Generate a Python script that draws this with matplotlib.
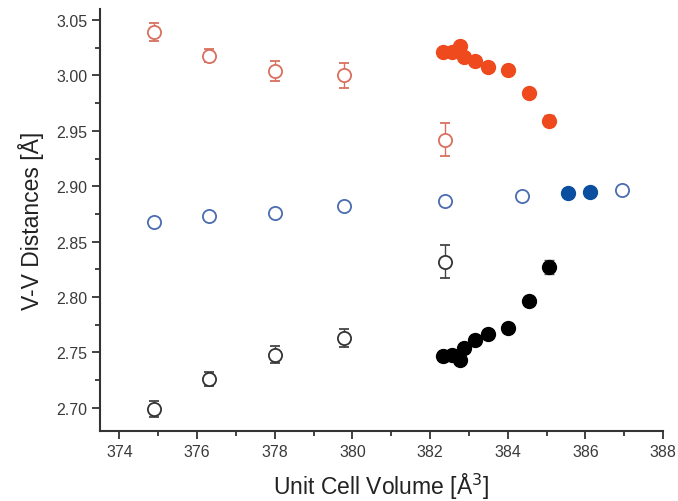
import matplotlib
matplotlib.use("Agg")
import matplotlib.pyplot as plt
from matplotlib.ticker import MultipleLocator, FormatStrFormatter

plt.rcParams['font.family'] = ['Liberation Sans', 'DejaVu Sans']

# Red open (long V-V distance, phase 1)
red_open_x = [374.90, 376.31, 378.00, 379.79, 382.38]
red_open_y = [3.039, 3.018, 3.004, 3.000, 2.942]
red_open_err = [0.008, 0.006, 0.009, 0.011, 0.015]

# Red filled
red_fill_x = [382.33, 382.56, 382.77, 382.87, 383.15, 383.49, 384.00, 384.54, 385.05]
red_fill_y = [3.021, 3.021, 3.027, 3.017, 3.013, 3.008, 3.005, 2.984, 2.959]
red_fill_err = [0, 0, 0, 0, 0, 0, 0, 0, 0.005]

# Blue open
blue_open_x = [374.90, 376.31, 378.00, 379.79, 382.38, 384.36, 386.95]
blue_open_y = [2.868, 2.873, 2.876, 2.882, 2.887, 2.891, 2.897]

# Blue filled
blue_fill_x = [385.56, 386.13]
blue_fill_y = [2.894, 2.895]

# Black open
black_open_x = [374.90, 376.31, 378.00, 379.79, 382.38]
black_open_y = [2.699, 2.726, 2.748, 2.763, 2.832]
black_open_err = [0.007, 0.006, 0.008, 0.008, 0.015]

# Black filled
black_fill_x = [382.33, 382.56, 382.77, 382.87, 383.15, 383.49, 384.00, 384.54, 385.05]
black_fill_y = [2.747, 2.748, 2.743, 2.754, 2.761, 2.767, 2.772, 2.796, 2.827]
black_fill_err = [0, 0, 0, 0, 0, 0, 0, 0, 0.006]

fig = plt.figure(figsize=(6.78, 5.02), dpi=100)
ax = fig.add_axes([0.1475, 0.1394, 0.8305, 0.8406])

ms = 9.5
ms_f = 10.0
red_o = '#d9705f'
red_f = '#ef4a1e'
blue_o = '#4a6cb0'
blue_f = '#0a4ea0'

ax.errorbar(red_open_x, red_open_y, yerr=red_open_err, fmt='o', mfc='white',
            mec=red_o, ecolor=red_o, mew=1.3, ms=ms, capsize=3.5, elinewidth=1.0, capthick=1.0, zorder=3)
ax.errorbar(red_fill_x, red_fill_y, yerr=red_fill_err, fmt='o', mfc=red_f,
            mec=red_f, ecolor='#b04030', ms=ms_f, capsize=3.5, elinewidth=1.0, capthick=1.0, zorder=3)
ax.plot(blue_open_x, blue_open_y, 'o', mfc='white', mec=blue_o, mew=1.3, ms=ms, zorder=3)
ax.plot(blue_fill_x, blue_fill_y, 'o', mfc=blue_f, mec=blue_f, ms=ms_f, zorder=3)
ax.errorbar(black_open_x, black_open_y, yerr=black_open_err, fmt='o', mfc='white',
            mec='#333333', ecolor='#444444', mew=1.3, ms=ms, capsize=3.5, elinewidth=1.0, capthick=1.0, zorder=3)
ax.errorbar(black_fill_x, black_fill_y, yerr=black_fill_err, fmt='o', mfc='black',
            mec='black', ecolor='#555555', ms=ms_f, capsize=3.5, elinewidth=1.0, capthick=1.0, zorder=3)

ax.set_xlim(373.5, 388)
ax.set_ylim(2.679, 3.060)
ax.xaxis.set_major_locator(MultipleLocator(2))
ax.xaxis.set_minor_locator(MultipleLocator(1))
ax.yaxis.set_major_locator(MultipleLocator(0.05))
ax.yaxis.set_minor_locator(MultipleLocator(0.025))
ax.yaxis.set_major_formatter(FormatStrFormatter('%.2f'))

for s in ['top', 'right']:
    ax.spines[s].set_visible(False)
for s in ['left', 'bottom']:
    ax.spines[s].set_linewidth(1.5)
    ax.spines[s].set_color('#333333')

ax.tick_params(which='major', direction='out', length=6, width=1.3, colors='#333333',
               labelsize=11.5, labelcolor='#3a3a3a', pad=3)
ax.tick_params(which='minor', direction='out', length=3.5, width=1.3, colors='#333333')

ax.set_xlabel('Unit Cell Volume [Å$^3$]', fontsize=16.5, color='#222222', labelpad=9)
ax.set_ylabel('V-V Distances [Å]', fontsize=16.5, color='#222222', labelpad=9)

fig.savefig('out.png', dpi=100)
